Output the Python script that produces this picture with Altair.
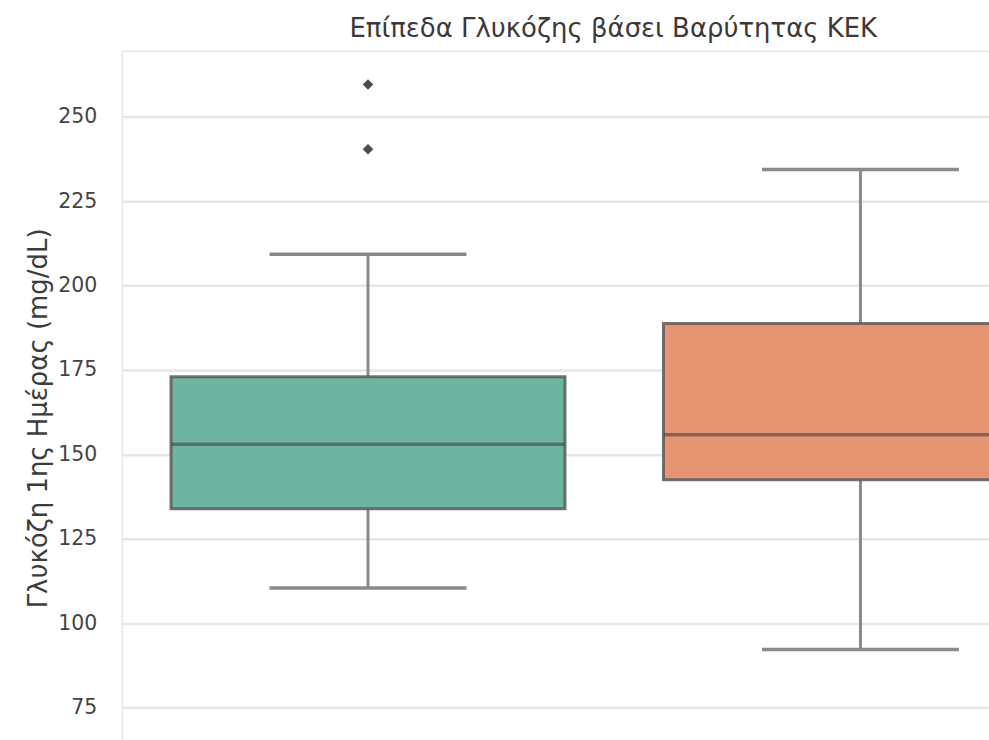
import altair as alt
import pandas as pd

# Summary statistics of day-1 glucose (mg/dL) per severity group
group_pos = [0, 1]
q1 = [133.9, 142.5]
median = [153.0, 155.8]
q3 = [173.0, 188.8]
whisker_low = [110.4, 92.2]
whisker_high = [209.3, 234.4]
fill_colors = ["#6db5a0", "#e69572"]

# Outlying observations
outlier_pos = [0, 0]
outlier_val = [259.6, 240.4]

y_ticks = [75, 100, 125, 150, 175, 200, 225, 250]

box_half = 0.4
cap_half = 0.2

boxes = pd.DataFrame({
    "pos": group_pos,
    "q1": q1,
    "med": median,
    "q3": q3,
    "lo": whisker_low,
    "hi": whisker_high,
    "color": fill_colors,
})
boxes["left"] = boxes["pos"] - box_half
boxes["right"] = boxes["pos"] + box_half
boxes["cap_l"] = boxes["pos"] - cap_half
boxes["cap_r"] = boxes["pos"] + cap_half

outliers = pd.DataFrame({"pos": outlier_pos, "val": outlier_val})

font = "DejaVu Sans"
x_scale = alt.Scale(domain=[-0.5, 1.261], nice=False, zero=False)
y_scale = alt.Scale(domain=[65.0, 269.6], nice=False, zero=False)

x_enc = alt.X("pos:Q", scale=x_scale, axis=None)
y_axis = alt.Axis(
    values=y_ticks,
    title="Γλυκόζη 1ης Ημέρας (mg/dL)",
    titleFont=font,
    titleFontSize=26,
    titleFontWeight="normal",
    titleColor="#3c3c3c",
    titleAngle=270,
    titleBaseline="middle",
    titleAlign="center",
    titleX=-83,
    titleY=368,
    labelFont=font,
    labelFontSize=20.5,
    labelColor="#444444",
    labelPadding=25,
    ticks=False,
    domain=False,
    grid=True,
    gridColor="#e6e6e6",
    gridWidth=2.5,
)

base = alt.Chart(boxes)

whisker_up = base.mark_rule(color="#8a8a8a", strokeWidth=3, clip=True).encode(
    x=x_enc,
    y=alt.Y("q3:Q", scale=y_scale, axis=y_axis),
    y2="hi:Q",
)
whisker_down = base.mark_rule(color="#8a8a8a", strokeWidth=3, clip=True).encode(
    x=alt.X("pos:Q", scale=x_scale),
    y=alt.Y("q1:Q", scale=y_scale),
    y2="lo:Q",
)
cap_hi = base.mark_rule(color="#8a8a8a", strokeWidth=3.5, clip=True).encode(
    x=alt.X("cap_l:Q", scale=x_scale),
    x2="cap_r:Q",
    y=alt.Y("hi:Q", scale=y_scale),
)
cap_lo = base.mark_rule(color="#8a8a8a", strokeWidth=3.5, clip=True).encode(
    x=alt.X("cap_l:Q", scale=x_scale),
    x2="cap_r:Q",
    y=alt.Y("lo:Q", scale=y_scale),
)
box = base.mark_bar(stroke="#5b5b5b", strokeWidth=3, strokeOpacity=0.85, clip=True).encode(
    x=alt.X("left:Q", scale=x_scale),
    x2="right:Q",
    y=alt.Y("q1:Q", scale=y_scale),
    y2="q3:Q",
    fill=alt.Fill("color:N", scale=None, legend=None),
)
med = base.mark_rule(color="#3a3a3a", strokeWidth=3.5, opacity=0.55, clip=True).encode(
    x=alt.X("left:Q", scale=x_scale),
    x2="right:Q",
    y=alt.Y("med:Q", scale=y_scale),
)
fliers = alt.Chart(outliers).mark_point(
    shape="diamond", filled=True, size=110, color="#4a4a4a", opacity=1, clip=True
).encode(
    x=alt.X("pos:Q", scale=x_scale),
    y=alt.Y("val:Q", scale=y_scale),
)

chart = (
    alt.layer(whisker_up, whisker_down, cap_hi, cap_lo, box, med, fliers)
    .properties(
        width=869,
        height=692,
        autosize=alt.AutoSizeParams(type="none"),
        padding={"left": 122, "top": 50, "right": 0, "bottom": 0},
        title=alt.TitleParams(
            "Επίπεδα Γλυκόζης βάσει Βαρύτητας ΚΕΚ",
            font=font,
            fontSize=26,
            fontWeight="normal",
            color="#3a3a3a",
            anchor="middle",
            dx=58,
            offset=9,
        ),
    )
    .configure_view(stroke="#e0e0e0", strokeWidth=2.5)
    .configure(background="white")
)

chart.save("out.html", embed_options={"renderer": "svg", "actions": False})
